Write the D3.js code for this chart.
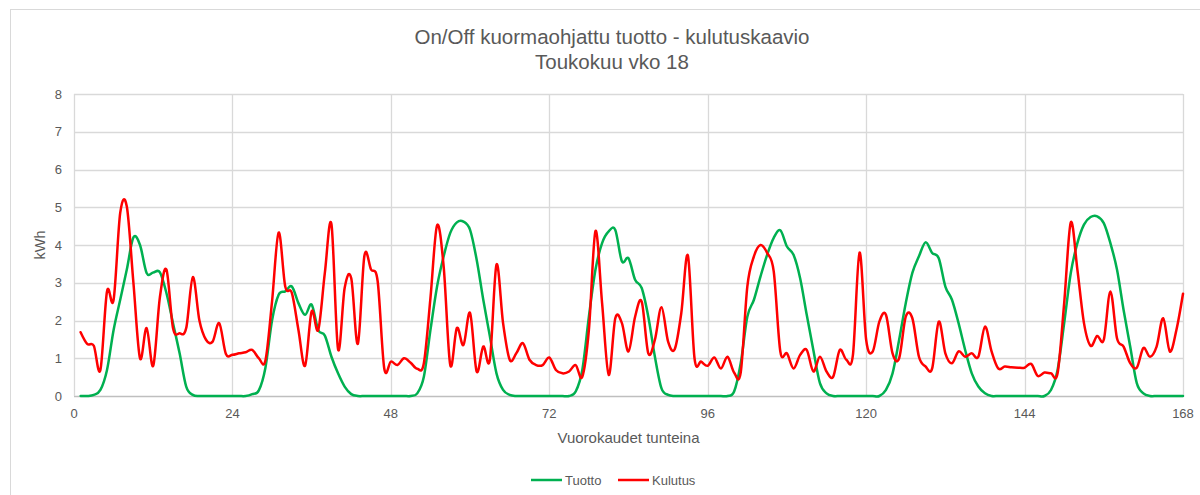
<!DOCTYPE html>
<html>
<head>
<meta charset="utf-8">
<script src="https://cdn.jsdelivr.net/npm/d3@7"></script>
<style>
  body { margin: 0; background: #fff; }
  text { font-family: "Liberation Sans", Arial, sans-serif; fill: #595959; }
</style>
</head>
<body>
<svg id="chart" width="1200" height="495"></svg>
<script>
var width = 1200, height = 495;
var margin = { top: 94, left: 74, right: 17, bottom: 99 }

var titleLines = ["On/Off kuormaohjattu tuotto - kulutuskaavio", "Toukokuu vko 18"]
var seriesNames = ["Tuotto", "Kulutus"]
var xTicks = [0, 24, 48, 72, 96, 120, 144, 168]
var yTicks = [0, 1, 2, 3, 4, 5, 6, 7, 8]

// hours 1..168
var tuotto = [
    0, 0, 0.03, 0.16, 0.69, 1.75, 2.55, 3.35, 4.2, 4.0,
    3.26, 3.27, 3.28, 2.73, 1.93, 1.13, 0.25, 0.03, 0, 0,
    0, 0, 0, 0, 0, 0, 0.05, 0.15, 0.75, 2.0,
    2.68, 2.77, 2.9, 2.46, 2.15, 2.42, 1.75, 1.6, 1.04, 0.6,
    0.25, 0.05, 0, 0, 0, 0, 0, 0, 0, 0,
    0, 0.07, 0.51, 1.75, 2.9, 3.7, 4.32, 4.6, 4.62, 4.4,
    3.61, 2.55, 1.58, 0.6, 0.16, 0.03, 0, 0, 0, 0,
    0, 0, 0, 0, 0, 0.12, 0.69, 2.1, 3.35, 4.05,
    4.36, 4.4, 3.57, 3.65, 3.08, 2.86, 2.1, 1.04, 0.2, 0.03,
    0, 0, 0, 0, 0, 0, 0, 0, 0, 0.12,
    0.87, 2.1, 2.55, 3.17, 3.74, 4.19, 4.39, 3.96, 3.74, 3.12,
    2.15, 1.22, 0.34, 0.07, 0, 0, 0, 0, 0, 0,
    0, 0, 0.16, 0.6, 1.49, 2.46, 3.26, 3.7, 4.07, 3.79,
    3.65, 2.9, 2.55, 1.93, 1.22, 0.6, 0.25, 0.07, 0, 0,
    0, 0, 0, 0, 0, 0, 0, 0.16, 0.69, 1.93,
    3.26, 4.05, 4.54, 4.74, 4.76, 4.58, 4.05, 3.35, 2.28, 1.31,
    0.34, 0.07, 0, 0, 0, 0, 0, 0
]
var kulutus = [
    1.69, 1.38, 1.33, 0.69, 2.77, 2.55, 4.85, 5.02, 3.0, 1.0,
    1.8, 0.8, 2.6, 3.35, 1.8, 1.66, 1.8, 3.15, 2.0, 1.49,
    1.44, 1.93, 1.12, 1.09, 1.13, 1.16, 1.22, 1.0, 0.94, 2.5,
    4.33, 2.9, 2.73, 1.75, 0.8, 2.24, 1.75, 3.26, 4.55, 1.24,
    2.86, 3.12, 1.38, 3.72, 3.35, 3.04, 0.73, 0.91, 0.82, 1.0,
    0.88, 0.72, 0.87, 2.6, 4.52, 3.43, 0.82, 1.8, 1.35, 2.2,
    0.65, 1.31, 0.96, 3.48, 1.93, 0.96, 1.13, 1.4, 0.96, 0.82,
    0.82, 1.02, 0.69, 0.6, 0.65, 0.82, 0.51, 1.75, 4.37, 2.46,
    0.56, 2.06, 1.93, 1.18, 2.1, 2.5, 1.13, 1.49, 2.35, 1.44,
    1.24, 2.2, 3.72, 1.0, 0.91, 0.8, 1.02, 0.73, 1.04, 0.62,
    0.62, 2.9, 3.7, 4.0, 3.79, 3.3, 1.18, 1.13, 0.73, 1.09,
    1.22, 0.65, 1.04, 0.65, 0.51, 1.22, 0.96, 1.09, 3.8, 1.49,
    1.18, 1.97, 2.15, 1.13, 1.0, 2.1, 2.06, 1.04, 0.78, 0.73,
    1.97, 1.13, 0.87, 1.18, 1.04, 1.13, 1.04, 1.84, 1.18, 0.73,
    0.78, 0.76, 0.75, 0.75, 0.85, 0.53, 0.62, 0.6, 0.6, 2.46,
    4.6, 3.35, 1.93, 1.33, 1.59, 1.49, 2.77, 1.53, 1.31, 0.87,
    0.75, 1.27, 1.04, 1.31, 2.06, 1.18, 1.75, 2.71
]
var colors = ["#00b050", "#ff0000"]

var svg = d3.select("#chart")

// chart area border
svg.append("rect")
    .attr("x", 10.5)
    .attr("y", 9.5)
    .attr("width", 1200)
    .attr("height", 500)
    .attr("fill", "none")
    .attr("stroke", "#d9d9d9")

var x = d3.scaleLinear()
    .domain([0, 168])
    .range([margin.left, width - margin.right])

var y = d3.scaleLinear()
    .domain([0, 8])
    .range([height - margin.bottom, margin.top])

// gridlines
svg.append("g")
    .selectAll("line")
    .data(yTicks)
    .join("line")
    .attr("x1", x(0))
    .attr("x2", x(168))
    .attr("y1", d => Math.round(y(d)) + 0.5)
    .attr("y2", d => Math.round(y(d)) + 0.5)
    .attr("stroke", d => d == 0 ? "#bfbfbf" : "#d9d9d9")
    .attr("stroke-width", 1.3)

svg.append("g")
    .selectAll("line")
    .data(xTicks)
    .join("line")
    .attr("x1", d => Math.round(x(d)) + 0.5)
    .attr("x2", d => Math.round(x(d)) + 0.5)
    .attr("y1", y(0))
    .attr("y2", y(8))
    .attr("stroke", "#d9d9d9")
    .attr("stroke-width", 1.3)

// tick labels
svg.append("g")
    .selectAll("text")
    .data(yTicks)
    .join("text")
    .attr("x", x(0) - 12)
    .attr("y", d => y(d))
    .attr("dy", "0.35em")
    .attr("text-anchor", "end")
    .style("font-size", "13px")
    .text(d => d)

svg.append("g")
    .selectAll("text")
    .data(xTicks)
    .join("text")
    .attr("x", d => x(d))
    .attr("y", y(0) + 22)
    .attr("text-anchor", "middle")
    .style("font-size", "13px")
    .text(d => d)

// axis titles
svg.append("text")
    .attr("x", (x(0) + x(168)) / 2)
    .attr("y", y(0) + 47)
    .attr("text-anchor", "middle")
    .style("font-size", "15px")
    .text("Vuorokaudet tunteina")

svg.append("text")
    .attr("transform", "translate(" + 45 + "," + (y(4)) + ") rotate(-90)")
    .attr("text-anchor", "middle")
    .style("font-size", "14.5px")
    .text("kWh")

// title
svg.append("g")
    .selectAll("text")
    .data(titleLines)
    .join("text")
    .attr("x", 612)
    .attr("y", (d, i) => 44 + i * 25)
    .attr("text-anchor", "middle")
    .style("font-size", "20.5px")
    .text(d => d)

// lines
var line = d3.line()
    .x((d, i) => x(i + 1))
    .y(d => y(d))
    .curve(d3.curveCardinal.tension(0))

svg.append("g")
    .selectAll("path")
    .data([tuotto, kulutus])
    .join("path")
    .attr("d", line)
    .attr("fill", "none")
    .attr("stroke", (d, i) => colors[i])
    .attr("stroke-width", 2.5)
    .attr("stroke-linejoin", "round")
    .attr("stroke-linecap", "round")

// legend
var legendX = [531, 618]
var legend = svg.append("g")
    .selectAll("g")
    .data(seriesNames)
    .join("g")
    .attr("transform", (d, i) => "translate(" + legendX[i] + "," + 480 + ")")

legend.append("line")
    .attr("x1", 0)
    .attr("x2", 31)
    .attr("stroke", (d, i) => colors[i])
    .attr("stroke-width", 2.5)

legend.append("text")
    .attr("x", 34)
    .attr("dy", "0.35em")
    .style("font-size", "13px")
    .text(d => d)
</script>
</body>
</html>
